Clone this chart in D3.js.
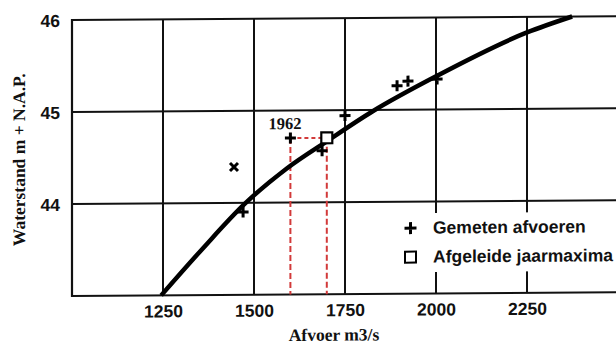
<!DOCTYPE html>
<html><head><meta charset="utf-8">
<script src="https://cdn.jsdelivr.net/npm/d3@7"></script>
<style>html,body{margin:0;padding:0;background:#fff;} svg{display:block;}</style>
</head><body>
<svg id="chart" width="616" height="344"></svg>
<script>
// Rating curve: water level (m + N.A.P.) against discharge (m3/s)
const xTicks = [1250, 1500, 1750, 2000, 2250];
const yTicks = [44, 45, 46];
const curveQ = [1245, 1360, 1475, 1590, 1703, 1824, 2000, 2250, 2374];
const curveH = [43.00, 43.51, 43.99, 44.37, 44.67, 44.98, 45.36, 45.83, 46.0];
const measuredQ = [1470, 1600, 1687, 1750, 1893, 1923, 2003];
const measuredH = [43.90, 44.70, 44.56, 44.94, 45.26, 45.31, 45.33];
const derivedQ = [1700];
const derivedH = [44.70];
const otherQ = [1445];
const otherH = [44.39];
const yearQ = 1600, yearH = 44.70, yearLabel = "1962";
const legendLabels = ["Gemeten afvoeren", "Afgeleide jaarmaxima"];
const xTitle = "Afvoer m3/s";
const yTitle = "Waterstand m + N.A.P.";

const SANS = "'Liberation Sans', Arial, sans-serif";
const SERIF = "'Liberation Serif', 'Times New Roman', serif";
const INK = "#111";

const svg = d3.select("#chart");
const g = svg.append("g").attr("transform", "skewY(-0.4)");

const x = d3.scaleLinear().domain([1000, 2500]).range([72, 618]);
const y = d3.scaleLinear().domain([43, 46]).range([296.5, 20.5]);

// grid and frame
const grid = g.append("g").attr("stroke", INK).attr("stroke-width", 2).attr("fill", "none");
grid.selectAll("line.v").data(xTicks).join("line")
  .attr("x1", d => x(d)).attr("x2", d => x(d))
  .attr("y1", y(46)).attr("y2", y(43));
grid.selectAll("line.h").data([43, 44, 45, 46]).join("line")
  .attr("x1", x(1000)).attr("x2", 620)
  .attr("y1", d => y(d)).attr("y2", d => y(d));
grid.append("line").attr("x1", x(1000)).attr("x2", x(1000))
  .attr("y1", y(46) - 1).attr("y2", y(43) + 1).attr("stroke-width", 2.2);

// axes labels
const xAxis = g.append("g").attr("transform", `translate(0,${y(43)})`)
  .call(d3.axisBottom(x).tickValues(xTicks).tickSize(0).tickFormat(d3.format("d")));
xAxis.select(".domain").remove();
xAxis.selectAll("text").attr("y", 22).attr("dy", 0)
  .attr("font-family", SANS).attr("font-weight", "bold").attr("font-size", 17.5).attr("fill", INK);

const yAxis = g.append("g").attr("transform", `translate(${x(1000)},0)`)
  .call(d3.axisLeft(y).tickValues(yTicks).tickSize(0).tickFormat(d3.format("d")));
yAxis.select(".domain").remove();
yAxis.selectAll("text").attr("x", -12).attr("dy", "0.36em")
  .attr("font-family", SANS).attr("font-weight", "bold").attr("font-size", 17.5).attr("fill", INK);

// reference lines for 1962
const ref = g.append("g").attr("stroke", "#d23a3a").attr("stroke-width", 2)
  .attr("stroke-dasharray", "6,3").attr("fill", "none");
ref.append("line").attr("x1", x(yearQ)).attr("x2", x(yearQ)).attr("y1", y(yearH)).attr("y2", y(43));
ref.append("line").attr("x1", x(derivedQ[0])).attr("x2", x(derivedQ[0])).attr("y1", y(derivedH[0])).attr("y2", y(43));
ref.append("line").attr("x1", x(yearQ)).attr("x2", x(derivedQ[0])).attr("y1", y(yearH)).attr("y2", y(derivedH[0]))
  .attr("stroke-dasharray", "4,3");

// rating curve
const curvePts = curveQ.map((q, i) => [q, curveH[i]]);
g.append("path").datum(curvePts)
  .attr("d", d3.line().x(d => x(d[0])).y(d => y(d[1])).curve(d3.curveMonotoneX))
  .attr("fill", "none").attr("stroke", "#000").attr("stroke-width", 4.5).attr("stroke-linecap", "butt");

// markers
function plus(sel, cx, cy, s) {
  sel.append("path").attr("d", `M${cx - s / 2},${cy}H${cx + s / 2}M${cx},${cy - s / 2}V${cy + s / 2}`)
    .attr("stroke", "#000").attr("stroke-width", 3).attr("fill", "none");
}
const marks = g.append("g");
measuredQ.forEach((q, i) => plus(marks, x(q), y(measuredH[i]), 11));
otherQ.forEach((q, i) => {
  const cx = x(q), cy = y(otherH[i]), s = 4;
  marks.append("path").attr("d", `M${cx - s},${cy - s}L${cx + s},${cy + s}M${cx - s},${cy + s}L${cx + s},${cy - s}`)
    .attr("stroke", "#000").attr("stroke-width", 3).attr("fill", "none");
});
derivedQ.forEach((q, i) => {
  marks.append("rect").attr("x", x(q) - 5.5).attr("y", y(derivedH[i]) - 5.5)
    .attr("width", 11).attr("height", 11).attr("fill", "#fff").attr("stroke", "#000").attr("stroke-width", 2.2);
});
g.append("text").attr("x", x(yearQ) - 22).attr("y", y(yearH) - 9)
  .attr("font-family", SERIF).attr("font-weight", "bold").attr("font-size", 16.5).attr("fill", INK)
  .text(yearLabel);

// legend
const lg = g.append("g");
lg.append("rect").attr("x", 398).attr("y", 216).attr("width", 222).attr("height", 59).attr("fill", "#fff");
plus(lg, 410.5, 231, 12);
lg.append("rect").attr("x", 405).attr("y", 254.5).attr("width", 11).attr("height", 11)
  .attr("fill", "#fff").attr("stroke", "#000").attr("stroke-width", 2);
lg.selectAll("text.leg").data(legendLabels).join("text")
  .attr("x", 433).attr("y", (d, i) => 236.5 + i * 29)
  .attr("font-family", SANS).attr("font-weight", "bold").attr("font-size", 17.5).attr("fill", INK)
  .text(d => d);

// axis titles
g.append("text").attr("x", 334).attr("y", 343).attr("text-anchor", "middle")
  .attr("font-family", SERIF).attr("font-weight", "bold").attr("font-size", 17.5).attr("fill", INK)
  .text(xTitle);
g.append("text").attr("transform", "translate(25,160) rotate(-90)").attr("text-anchor", "middle")
  .attr("font-family", SERIF).attr("font-weight", "bold").attr("font-size", 17.5).attr("fill", INK)
  .text(yTitle);
</script>
</body></html>
